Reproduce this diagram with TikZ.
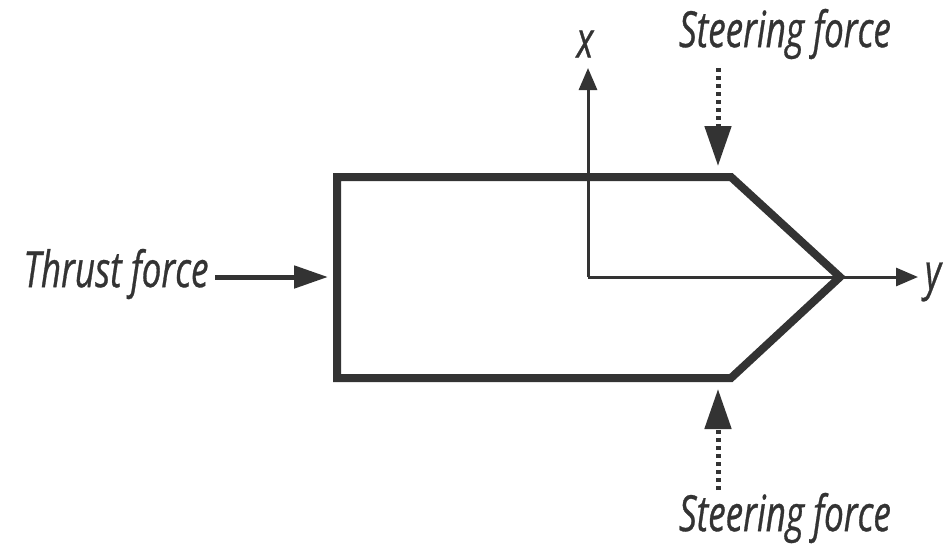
\documentclass[tikz,border=0pt]{standalone}
\usepackage{fontspec}
\newfontfamily\lab{Open Sans}[FakeStretch=0.7, FakeBold=0.6]
\usetikzlibrary{arrows.meta}
\definecolor{ink}{HTML}{333333}
\begin{document}
\begin{tikzpicture}[x=1pt,y=-1pt,
  lbl/.style={font=\lab\itshape\fontsize{50}{50}\selectfont, text=ink, inner sep=0pt},
  hull/.style={draw=ink, line width=8pt, line join=miter},
  axis/.style={draw=ink, line width=3pt, -{Triangle[length=22pt,width=18pt]}},
  force/.style={draw=ink, line width=5pt, -{Triangle[length=34pt,width=22pt]}},
  steer/.style={draw=ink, line width=5pt, dash pattern=on 4pt off 4pt, -{Triangle[length=40pt,width=26pt]}}]
\useasboundingbox (0,0) rectangle (946,546);
% hull
\coordinate (tl) at (337,177);
\coordinate (tr) at (731,177);
\coordinate (tip) at (840,277);
\coordinate (br) at (731,378);
\coordinate (bl) at (337,378);
\draw[hull] (tl) -- (tr) -- (tip) -- (br) -- (bl) -- cycle;
% axes
\coordinate (o) at (588,277);
\coordinate (xend) at (588,68);
\coordinate (yend) at (918,277);
\draw[axis] (o) -- (xend);
\draw[axis] (o) -- (yend);
\node[lbl] (xl) at (585,44) {x};
\node[lbl] (yl) at (933,282) {y};
% thrust
\node[lbl] (thr) at (116,274) {Thrust force};
\coordinate (tin) at (328,277);
\draw[force] (215,277) -- (tin);
% steering
\node[lbl] (st) at (785,34) {Steering force};
\node[lbl] (sb) at (785,518) {Steering force};
\coordinate (stt) at (718,166);
\coordinate (stb) at (718,389);
\draw[steer] (718,68) -- (stt);
\draw[steer] (718,490) -- (stb);
\end{tikzpicture}
\end{document}
